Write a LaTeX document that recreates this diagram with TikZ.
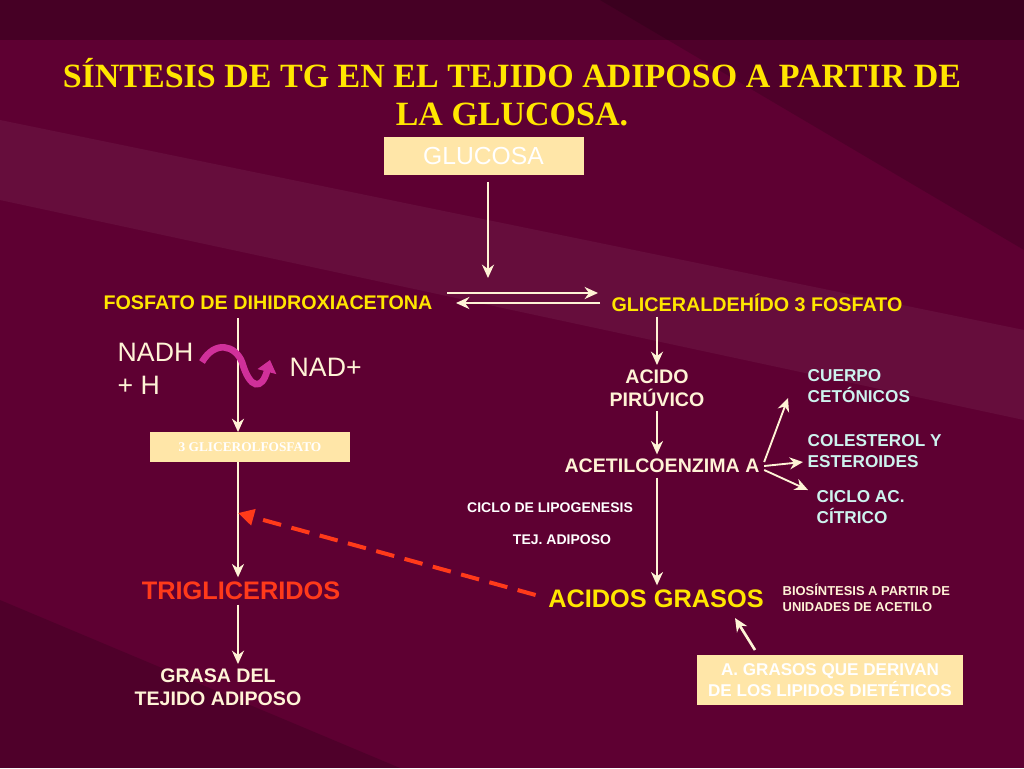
\documentclass[tikz,border=0pt]{standalone}
\usepackage{fontspec}
\setmainfont{Liberation Sans}
\newfontfamily\serifT{Liberation Serif}
\begin{document}
\begin{tikzpicture}[x=0.75pt,y=-0.75pt,
  ylw/.style={text=yel,font=\bfseries\fontsize{14.8}{16}\selectfont},
  crm/.style={text=cream,font=\bfseries\fontsize{14.7}{17}\selectfont,align=center},
  cyn/.style={text=cyanl,font=\bfseries\fontsize{12.9}{16}\selectfont,align=left,anchor=west},
  sml/.style={text=white,font=\bfseries\fontsize{10.5}{12}\selectfont},
  pbox/.style={fill=peach,text=white,draw=none},
  ar/.style={draw=cream,line width=2pt,-{Stealth[length=10pt,width=9pt]}}]
\definecolor{bg}{HTML}{5E0032}
\definecolor{yel}{HTML}{FFE600}
\definecolor{cream}{HTML}{FFF3D6}
\definecolor{cyanl}{HTML}{CDF3EE}
\definecolor{peach}{HTML}{FFE6A8}
\definecolor{redt}{HTML}{FF3A1A}
\definecolor{mag}{HTML}{D0309A}
\usetikzlibrary{arrows.meta}
\fill[bg] (0,0) rectangle (1024,768);
\fill[black,opacity=0.25] (0,0) rectangle (1024,40);
\fill[white,opacity=0.05] (0,120) -- (1024,330) -- (1024,420) -- (0,200) -- cycle;
\fill[black,opacity=0.15] (600,0) -- (1024,0) -- (1024,250) -- cycle;
\fill[black,opacity=0.15] (0,600) -- (400,768) -- (0,768) -- cycle;
\useasboundingbox (0,0) rectangle (1024,768);
\node[text=yel,font=\serifT\bfseries\fontsize{25.5}{28}\selectfont,align=center] (title) at (512,92)
 {SÍNTESIS DE TG EN EL TEJIDO ADIPOSO A PARTIR DE\\LA GLUCOSA.};
\node[pbox,minimum width=150pt,minimum height=28pt,font=\fontsize{18.5}{20}\selectfont] (glu) at (483.5,156) {GLUCOSA};
\coordinate (mid) at (488,278);
\draw[ar] (glu.south) ++(4.5,7) -- (mid);
\node[ylw] (dhap) at (268,303) {FOSFATO DE DIHIDROXIACETONA};
\node[ylw] (g3p) at (757,303) {GLICERALDEHÍDO 3 FOSFATO};
\coordinate (t1) at (447,293); \coordinate (t2) at (598,293);
\coordinate (b1) at (600,303); \coordinate (b2) at (456,303);
\draw[ar] (t1) -- (t2);
\draw[ar] (b1) -- (b2);
\node[pbox,minimum width=150pt,minimum height=22pt,font=\serifT\bfseries\fontsize{10}{11}\selectfont] (gly) at (250,447) {3 GLICEROLFOSFATO};
\draw[ar] (238,318) -- (gly.north -| 238,318);
\node[text=cream,font=\fontsize{20}{25}\selectfont,align=left,anchor=north west] (nadh) at (113,338) {NADH\\+ H};
\node[text=cream,font=\fontsize{20}{22}\selectfont,anchor=west] (nad) at (285,367) {NAD+};
\draw[mag,line width=5pt,-{Triangle[length=9pt,width=14pt]}] (202,362) .. controls (215,340) and (235,345) .. (242,362) .. controls (250,390) and (262,390) .. (270,360);
\node[text=redt,font=\bfseries\fontsize{19}{21}\selectfont] (tg) at (241,591) {TRIGLICERIDOS};
\draw[ar] (gly.south -| 238,0) -- (tg.north -| 238,0);
\node[crm] (grasa) at (218,687) {GRASA DEL\\TEJIDO ADIPOSO};
\draw[ar] (tg.south -| 238,0) -- (grasa.north -| 238,0);
\node[crm] (pir) at (657,388) {ACIDO\\PIRÚVICO};
\draw[ar] (g3p.south -| 657,0) -- (pir.north);
\node[crm] (acet) at (662,466) {ACETILCOENZIMA A};
\draw[ar] (pir.south) -- (acet.north -| 657,0);
\node[text=yel,font=\bfseries\fontsize{19}{21}\selectfont] (ag) at (656,599) {ACIDOS GRASOS};
\draw[ar] (acet.south -| 657,0) -- (ag.north -| 657,0);
\node[cyn] (cc) at (803,386) {CUERPO\\CETÓNICOS};
\node[cyn] (col) at (803,451) {COLESTEROL Y\\ESTEROIDES};
\node[cyn] (cic) at (812,507) {CICLO AC.\\CÍTRICO};
\draw[ar,line width=1.4pt] (acet.east) ++(0,-4) -- (788,398);
\draw[ar,line width=1.4pt] (acet.east) -- (col.west |- 0,462);
\draw[ar,line width=1.4pt] (acet.east) ++(0,4) -- (808,490);
\node[sml] (lip) at (550,508) {CICLO DE LIPOGENESIS};
\node[sml] (tej) at (562,540) {TEJ. ADIPOSO};
\draw[redt,line width=3pt,dash pattern=on 14pt off 8pt,-{Triangle[length=12pt,width=12pt]}] (ag.west) ++(-8,-4) -- (238,513);
\node[text=cream,font=\bfseries\fontsize{9.7}{12}\selectfont,align=left,anchor=west] (bio) at (778,598) {BIOSÍNTESIS A PARTIR DE\\UNIDADES DE ACETILO};
\node[pbox,minimum width=200pt,minimum height=38pt,font=\bfseries\fontsize{12.8}{16}\selectfont,align=center] (diet) at (830,680) {A. GRASOS QUE DERIVAN\\DE LOS LIPIDOS DIETÉTICOS};
\draw[ar] (755,650) -- (735,618);
\end{tikzpicture}
\end{document}
